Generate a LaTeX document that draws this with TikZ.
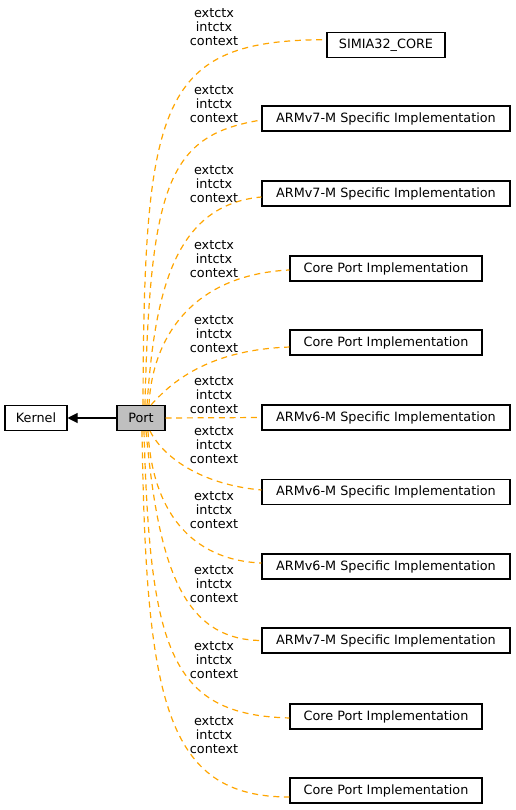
\documentclass[tikz,border=0pt]{standalone}
\usepackage{fontspec}
\setmainfont{DejaVu Sans}
\usetikzlibrary{arrows.meta}
\definecolor{edgeorange}{HTML}{FFA500}
\definecolor{portgray}{HTML}{BFBFBF}
\tikzset{
  box/.style={draw=black, fill=white, line width=0.8pt, minimum height=18.75pt, inner sep=0pt, font=\fontsize{9.6}{10.5}\selectfont},
  edge/.style={draw=edgeorange, line width=0.9pt, dash pattern=on 4.5pt off 3.5pt},
  lbl/.style={align=center, inner sep=0pt, font=\fontsize{9.6}{10.5}\selectfont},
}
\begin{document}
\begin{tikzpicture}[x=0.75pt, y=-0.75pt]
\useasboundingbox (0,0) rectangle (516,810);
% nodes
\node[box, minimum width=46.5pt] (kernel) at (36,418) {Kernel};
\node[box, minimum width=36pt, fill=portgray] (port) at (141,418) {Port};
\node[box, minimum width=88.5pt] (simia) at (386,45) {SIMIA32\_CORE};
\node[box, minimum width=186pt] (v7a) at (386,118.5) {ARMv7-M Specific Implementation};
\node[box, minimum width=186pt] (v7b) at (386,193.5) {ARMv7-M Specific Implementation};
\node[box, minimum width=144pt] (cpa) at (386,268.5) {Core Port Implementation};
\node[box, minimum width=144pt] (cpb) at (386,342.5) {Core Port Implementation};
\node[box, minimum width=186pt] (v6a) at (386,417.5) {ARMv6-M Specific Implementation};
\node[box, minimum width=186pt] (v6b) at (386,492) {ARMv6-M Specific Implementation};
\node[box, minimum width=186pt] (v6c) at (386,566.5) {ARMv6-M Specific Implementation};
\node[box, minimum width=186pt] (v7c) at (386,640.5) {ARMv7-M Specific Implementation};
\node[box, minimum width=144pt] (cpc) at (386,716.5) {Core Port Implementation};
\node[box, minimum width=144pt] (cpd) at (386,790.5) {Core Port Implementation};
% labels
\node[lbl] (l1) at (214,27) {extctx\\intctx\\context};
\node[lbl] (l2) at (214,104) {extctx\\intctx\\context};
\node[lbl] (l3) at (214,184) {extctx\\intctx\\context};
\node[lbl] (l4) at (214,259) {extctx\\intctx\\context};
\node[lbl] (l5) at (214,334) {extctx\\intctx\\context};
\node[lbl] (l6) at (214,395) {extctx\\intctx\\context};
\node[lbl] (l7) at (214,445) {extctx\\intctx\\context};
\node[lbl] (l8) at (214,510) {extctx\\intctx\\context};
\node[lbl] (l9) at (214,584) {extctx\\intctx\\context};
\node[lbl] (l10) at (214,660) {extctx\\intctx\\context};
\node[lbl] (l11) at (214,735) {extctx\\intctx\\context};
% inheritance arrow
\draw[line width=0.8pt, -{Triangle[length=7.5pt,width=7.5pt]}] (port) -- (kernel);
% dashed edges
\draw[edge] ([xshift=1.5pt]port.north) .. controls (144,100) and (160,40) .. ([yshift=4pt]simia.west);
\draw[edge] ([xshift=3pt]port.north) .. controls (150,180) and (170,135) .. ([yshift=-1.1pt]v7a.west);
\draw[edge] ([xshift=4.5pt]port.north) .. controls (155,290) and (175,205) .. ([yshift=-2.6pt]v7b.west);
\draw[edge] ([xshift=6pt]port.north) .. controls (152,340) and (190,275) .. ([yshift=-1.1pt]cpa.west);
\draw[edge] ([xshift=7.5pt]port.north) .. controls (165,390) and (200,350) .. ([yshift=-3.4pt]cpb.west);
\draw[edge] (port.east) -- (v6a.west);
\draw[edge] ([xshift=6.75pt]port.south) .. controls (165,460) and (205,485) .. ([yshift=1.5pt]v6b.west);
\draw[edge] ([xshift=5.25pt]port.south) .. controls (152,510) and (190,560) .. ([yshift=2.6pt]v6c.west);
\draw[edge] ([xshift=3.75pt]port.south) .. controls (158,560) and (180,640) .. (v7c.west);
\draw[edge] ([xshift=2.25pt]port.south) .. controls (150,650) and (170,715) .. ([yshift=-1.1pt]cpc.west);
\draw[edge] ([xshift=0.75pt]port.south) .. controls (146,700) and (165,797) .. ([yshift=-4.9pt]cpd.west);
\end{tikzpicture}
\end{document}
